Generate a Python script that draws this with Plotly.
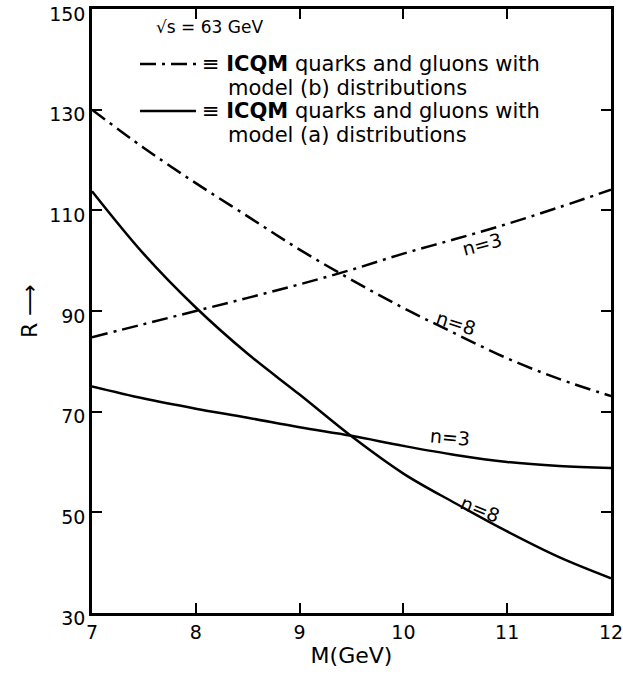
import plotly.graph_objects as go

M = [7.0, 7.5, 8.0, 8.5, 9.0, 9.5, 10.0, 10.5, 11.0, 11.5, 12.0]

# Model (b) distributions (dash-dot)
b_n8_R = [130.0, 122.4, 115.4, 108.8, 102.2, 96.2, 90.6, 85.5, 80.6, 76.5, 73.1]
b_n3_R = [84.8, 87.4, 90.0, 92.6, 95.3, 98.2, 101.4, 104.3, 107.3, 110.6, 114.1]

# Model (a) distributions (solid)
a_n8_R = [113.8, 101.3, 90.7, 81.5, 73.4, 65.1, 57.7, 51.8, 46.2, 41.1, 36.9]
a_n3_R = [75.0, 72.6, 70.6, 68.8, 66.9, 65.2, 63.2, 61.4, 60.0, 59.2, 58.8]

x_ticks = [7, 8, 9, 10, 11, 12]
y_ticks = [30, 50, 70, 90, 110, 130, 150]

DASHDOT = "16px,6px,3px,6px"
FONT = "DejaVu Sans"

fig = go.Figure()
for R, dash in [(b_n8_R, DASHDOT), (b_n3_R, DASHDOT),
                (a_n8_R, "solid"), (a_n3_R, "solid")]:
    fig.add_trace(go.Scatter(x=M, y=R, mode="lines",
                             line=dict(color="black", width=2.5, dash=dash,
                                       shape="spline", smoothing=1.0),
                             showlegend=False, hoverinfo="skip"))

# curve labels
labels = [(10.76, 103.3, "n=3", -15), (10.51, 87.6, "n=8", 18),
          (10.45, 64.9, "n=3", 5), (10.74, 50.6, "n=8", 22)]
for x, y, t, a in labels:
    fig.add_annotation(x=x, y=y, text=t, showarrow=False, textangle=a,
                       font=dict(size=19, color="black", family=FONT))

# legend block (positions in page pixels converted to paper fractions)
L, R_, T, B = 92, 611, 9, 613

def py(p):
    return (B - p) / (B - T)

def px(p):
    return (p - L) / (R_ - L)

fig.add_annotation(xref="paper", yref="paper", x=px(154), y=py(27), xanchor="left",
                   yanchor="middle", text="√s = 63 GeV", showarrow=False,
                   font=dict(size=17, color="black", family=FONT))
for ypix, dash in [(64, DASHDOT), (111, "solid")]:
    fig.add_shape(type="line", xref="paper", yref="paper",
                  x0=px(140), x1=px(196), y0=py(ypix), y1=py(ypix),
                  line=dict(color="black", width=2.5, dash=dash))
leg_lines = [(64, 200, "≡ <b>ICQM</b> quarks and gluons with"),
             (88, 226, "model (b) distributions"),
             (111, 200, "≡ <b>ICQM</b> quarks and gluons with"),
             (135, 226, "model (a) distributions")]
for ypix, xpix, t in leg_lines:
    fig.add_annotation(xref="paper", yref="paper", x=px(xpix), y=py(ypix),
                       xanchor="left", yanchor="middle", text=t, showarrow=False,
                       font=dict(size=21, color="black", family=FONT))

axis_common = dict(showline=True, linecolor="black", linewidth=2.5, mirror="ticks",
                   ticks="inside", ticklen=10, tickwidth=2, tickcolor="black",
                   showgrid=False, zeroline=False, ticklabeloverflow="allow",
                   automargin=False,
                   tickfont=dict(size=19, color="black", family=FONT))
fig.update_xaxes(range=[7, 12], tickvals=x_ticks,
                 title=dict(text="M(GeV)", font=dict(size=22, color="black", family=FONT),
                            standoff=2),
                 **axis_common)
fig.update_yaxes(range=[30, 150], tickvals=y_ticks, ticklabelshift=5,
                 title=dict(text="R ⟶", font=dict(size=22, color="black", family=FONT),
                            standoff=6),
                 **axis_common)

fig.update_layout(width=623, height=682, plot_bgcolor="white", paper_bgcolor="white",
                  margin=dict(l=L, r=623 - R_, t=T, b=682 - B))
fig.write_html("out.html", config={"displayModeBar": False},
               post_script="document.body.style.margin='0';")
